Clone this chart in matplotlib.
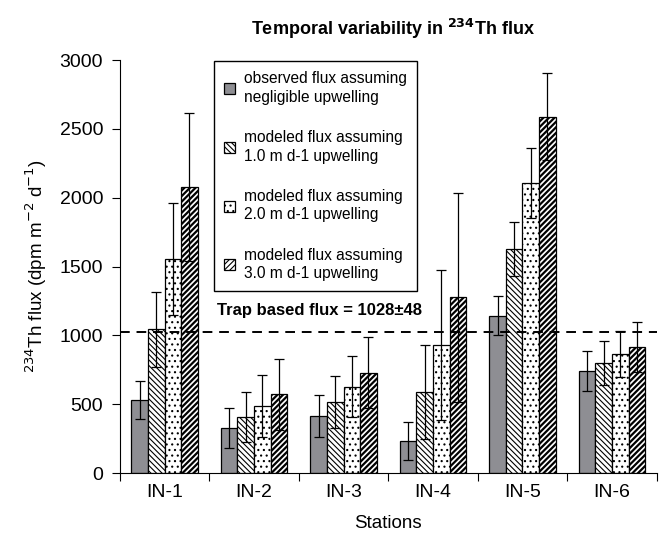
import numpy as np
import matplotlib
matplotlib.use('Agg')
import matplotlib.pyplot as plt

plt.rcParams['font.family'] = ['Liberation Sans', 'DejaVu Sans']
plt.rcParams['hatch.linewidth'] = 0.8

# data
stations = ['IN-1', 'IN-2', 'IN-3', 'IN-4', 'IN-5', 'IN-6']
labels = ['observed flux assuming\nnegligible upwelling',
          'modeled flux assuming\n1.0 m d-1 upwelling',
          'modeled flux assuming\n2.0 m d-1 upwelling',
          'modeled flux assuming\n3.0 m d-1 upwelling']
flux_obs = [530, 325, 414, 235, 1143, 741]
flux_1 = [1044, 407, 518, 588, 1627, 801]
flux_2 = [1557, 487, 627, 930, 2107, 862]
flux_3 = [2078, 572, 729, 1276, 2590, 915]
err_obs = [138, 145, 152, 138, 140, 147]
err_1 = [272, 180, 190, 340, 198, 162]
err_2 = [405, 225, 222, 543, 252, 167]
err_3 = [538, 260, 258, 758, 315, 180]
trap_flux = 1028
trap_err = 48

series = [flux_obs, flux_1, flux_2, flux_3]
errors = [err_obs, err_1, err_2, err_3]
colors = ['#8e8e93', 'white', 'white', 'white']
hatches = [None, '\\\\\\\\\\\\', '...', '//////']
hatch_lw = [0.8, 0.8, 0.8, 1.6]

fig = plt.figure(figsize=(6.62, 5.37), dpi=100)
ax = fig.add_axes([0.181, 0.119, 0.811, 0.769])

x = np.arange(len(stations))
w = 0.185
for i in range(4):
    pos = x + (i - 1.5) * w
    bars = ax.bar(pos, series[i], w, color=colors[i], edgecolor='black', linewidth=0.9,
                  hatch=hatches[i], label=labels[i], zorder=2)
    for b in bars:
        try:
            b.set_hatch_linewidth(hatch_lw[i])
        except AttributeError:
            pass
    ax.errorbar(pos, series[i], yerr=errors[i], fmt='none', ecolor='black',
                elinewidth=0.9, capsize=3.8, capthick=0.9, zorder=3)

ax.axhline(trap_flux, color='black', linestyle=(0, (5, 3.5)), linewidth=1.4, zorder=4)
ax.text(0.585, trap_flux + 100, 'Trap based flux = %d\u00b1%d' % (trap_flux, trap_err),
        fontsize=12, fontweight='bold', ha='left', va='bottom', zorder=6)

ax.set_xlim(-0.5, 5.5)
ax.set_ylim(0, 3000)
ax.set_yticks(range(0, 3001, 500))
ax.set_xticks(np.arange(-0.5, 6, 1))
ax.set_xticklabels([])
ax.set_xticks(x, minor=True)
ax.set_xticklabels(stations, minor=True, fontsize=14)
ax.tick_params(axis='x', which='minor', length=0, pad=8)
ax.tick_params(axis='x', which='major', direction='out', length=6)
ax.tick_params(axis='y', direction='out', length=6, labelsize=14, pad=6)
ax.spines['top'].set_visible(False)
ax.spines['right'].set_visible(False)

ax.set_xlabel('Stations', fontsize=13.5, labelpad=10)
ax.set_ylabel('$^{234}$Th flux (dpm m$^{-2}$ d$^{-1}$)', fontsize=13.5, labelpad=8)
fig.text(0.593, 0.947, 'Temporal variability in $^{\\mathbf{234}}$Th flux',
         fontsize=13, fontweight='bold', ha='center', va='center')

leg = ax.legend(loc='upper left', bbox_to_anchor=(214 / 662, 1 - 61 / 537),
                bbox_transform=fig.transFigure, fontsize=11.2, frameon=True,
                fancybox=False, edgecolor='black', framealpha=1,
                handlelength=0.7, handleheight=0.7, handletextpad=0.55,
                labelspacing=1.62, borderpad=0.65, borderaxespad=0)
leg.get_frame().set_linewidth(1.0)
for t in leg.get_texts():
    t.set_linespacing(1.3)

fig.savefig('out.png', dpi=100)
plt.close(fig)
